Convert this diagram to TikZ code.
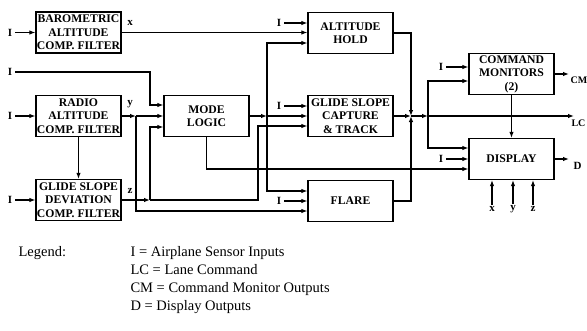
\documentclass[tikz,border=0pt]{standalone}
\usepackage{fontspec}
\setmainfont{Liberation Serif}
\usetikzlibrary{arrows.meta}
\begin{document}
\begin{tikzpicture}[x = 1pt, y = -1pt, >={Latex[length=6pt,width=4.5pt]}, line width = 1.1pt,
		block/.style = {draw, line width = 1.3pt, minimum width = 85pt, minimum height = 41pt, inner sep = 0pt, align = center, font = \fontsize{11.7}{13.5}\selectfont\bfseries},
		sig/.style = {inner sep = 2.5pt, font = \fontsize{11}{12}\selectfont\bfseries},
		tag/.style = {inner sep = 1pt, font = \fontsize{11}{12}\selectfont\bfseries},
		legend/.style = {inner sep = 0pt, font = \fontsize{14.5}{18}\selectfont}]
		\useasboundingbox (0,0) rectangle (587,330);
		% blocks
		\node[block] (baro) at (78.5,32.5) {BAROMETRIC\\ALTITUDE\\COMP. FILTER};
		\node[block] (radio) at (78.5,116) {RADIO\\ALTITUDE\\COMP. FILTER};
		\node[block] (gsdev) at (78.5,200) {GLIDE SLOPE\\DEVIATION\\COMP. FILTER};
		\node[block] (mode) at (206.5,116) {MODE\\LOGIC};
		\node[block] (alth) at (350.5,33) {ALTITUDE\\HOLD};
		\node[block] (gscap) at (350.5,116) {GLIDE SLOPE\\CAPTURE\\\& TRACK};
		\node[block] (flare) at (350.5,201) {FLARE};
		\node[block] (cmon) at (511.5,74) {COMMAND\\MONITORS\\(2)};
		\node[block] (disp) at (511.5,159) {DISPLAY};
		% sensor inputs
		\node[sig] (ib) at (10,32.5) {I};
		\node[sig] (ir) at (10,116) {I};
		\node[sig] (ig) at (10,200) {I};
		\node[sig] (im) at (10,72) {I};
		\node[sig] (ia) at (279,23) {I};
		\node[sig] (ic) at (279,106) {I};
		\node[sig] (ifl) at (279,201) {I};
		\node[sig] (icm) at (441,67) {I};
		\node[sig] (id) at (441,159) {I};
		% signal names
		\node[tag] (lx) at (130,23) {x};
		\node[tag] (ly) at (130,104) {y};
		\node[tag] (lz) at (130,191) {z};
		\node[tag] (dx) at (492,209) {x};
		\node[tag] (dy) at (513,209) {y};
		\node[tag] (dz) at (533,209) {z};
		% junctions
		\coordinate (yj) at (136,116);
		\coordinate (zj) at (150,200);
		\coordinate (mj) at (267,116);
		\coordinate (sj) at (411,116);
		\coordinate (lj) at (428,116);
		\coordinate (cmend) at (569,74);
		\coordinate (lcend) at (574,116);
		\coordinate (dend) at (569,159);
		\node[tag, anchor = north west, font = \fontsize{10}{12}\selectfont\bfseries] (cm) at (569,75) {CM};
		\node[tag, anchor = north west, font = \fontsize{10}{12}\selectfont\bfseries] (lc) at (570,118) {LC};
		\node[tag, anchor = north west] (dd) at (572,161) {D};
		% left side
		\draw[->] (ib) -- (baro);
		\draw[->] (ir) -- (radio);
		\draw[->] (ig) -- (gsdev);
		\draw[->] (im) -- (150,72) |- ([yshift=11pt]mode.west);
		\draw[->] (radio) -- (yj);
		\draw[->] (yj) -- (mode);
		\draw[->] (yj) |- ([yshift=-10pt]flare.west);
		\draw[->] (gsdev) -- (zj);
		\draw[->] (zj) |- ([yshift=-11pt]mode.west);
		\draw[->] (zj) -- (258,200) |- ([yshift=-10pt]gscap.west);
		\draw[->] (baro) -- (baro -| alth.west);
		\draw[->] (radio) -- (gsdev);
		% mode logic outputs
		\draw[->] (mode) -- (mj);
		\draw[->] (mj) |- ([yshift=-10pt]alth.west);
		\draw[->] (mj) -- (gscap);
		\draw[->] (mj) |- ([yshift=10pt]flare.west);
		\draw[->] (mode.south) |- ([yshift=-10pt]disp.west);
		% sensor arrows
		\draw[->] (ia) -- (ia -| alth.west);
		\draw[->] (ic) -- (ic -| gscap.west);
		\draw[->] (ifl) -- (ifl -| flare.west);
		\draw[->] (icm) -- (icm -| cmon.west);
		\draw[->] (id) -- (disp);
		% lane command
		\draw[->] (alth) -| (sj);
		\draw[->] (gscap) -- (sj);
		\draw[->] (flare) -| (sj);
		\draw[->] (sj) -- (lj);
		\draw[->] (lj) -- (lcend);
		\draw[->] (lj) |- ([yshift=-7pt]cmon.west);
		\draw[->] (lj) |- ([yshift=11pt]disp.west);
		\draw[->] (cmon) -- (disp);
		\draw[->] (cmon) -- (cmend);
		\draw[->] (disp) -- (dend);
		\draw[->] (dx) -- (dx |- disp.south);
		\draw[->] (dy) -- (dy |- disp.south);
		\draw[->] (dz) -- (dz |- disp.south);
		% legend
		\node[legend, anchor = base west] (leg) at (18,256) {Legend:};
		\node[legend, anchor = base west] (l1) at (130,256) {I = Airplane Sensor Inputs};
		\node[legend, anchor = base west] (l2) at (130,274) {LC = Lane Command};
		\node[legend, anchor = base west] (l3) at (130,292) {CM = Command Monitor Outputs};
		\node[legend, anchor = base west] (l4) at (130,310) {D = Display Outputs};
	\end{tikzpicture}
\end{document}
